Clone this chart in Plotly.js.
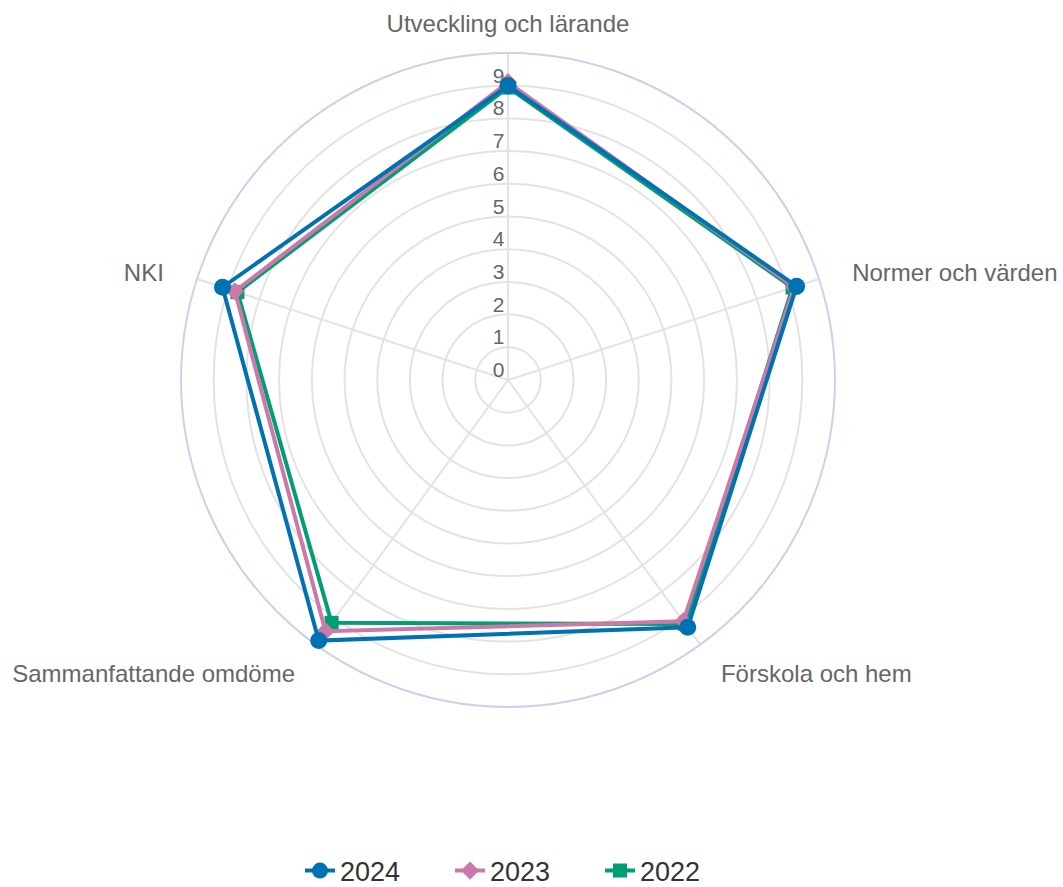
<!DOCTYPE html>
<html>
<head>
<meta charset="utf-8">
<script src="https://cdn.plot.ly/plotly-3.0.1.min.js"></script>
<style>html,body{margin:0;padding:0;background:#fff;}#chart{width:1063px;height:887px;}</style>
</head>
<body>
<div id="chart"></div>
<script>
const categories = ["Utveckling och lärande", "Normer och värden", "Förskola och hem", "Sammanfattande omdöme", "NKI"];
const years = ["2024", "2023", "2022"];
const values2024 = [9.0, 9.28, 9.35, 9.85, 9.18];
const values2023 = [9.1, 9.2, 9.12, 9.5, 8.78];
const values2022 = [8.95, 9.15, 9.22, 9.18, 8.7];
const radialTicks = [0, 1, 2, 3, 4, 5, 6, 7, 8, 9];

const colors = ["#0072B2", "#CC79A7", "#009E73"];
const symbols = ["circle", "diamond", "square"];
const sizes = [17, 14, 14];
const seriesValues = [values2024, values2023, values2022];

// Extra spacing so the category labels sit a bit further from the outer circle
const NB = "\u00A0", TH = "\u2009";
const labelPad = [["", ""], [NB + NB + TH, ""], [NB + TH, ""], ["", NB + TH], ["", NB + NB + TH]];
const angularText = categories.map((c, i) => labelPad[i][0] + c + labelPad[i][1]);
// radial tick labels sit slightly above their grid circles
const labelLift = 0.3;

const gridTrace = {
  type: "scatterpolar", subplot: "polar", r: [], theta: [],
  mode: "markers", showlegend: false, hoverinfo: "skip"
};

const traces = [gridTrace].concat(years.map((y, i) => ({
  type: "scatterpolar",
  subplot: "polar2",
  name: y,
  r: seriesValues[i].concat([seriesValues[i][0]]),
  theta: categories.concat([categories[0]]),
  mode: "lines+markers",
  line: {color: colors[i], width: 4},
  marker: {color: colors[i], symbol: symbols[i], size: sizes[i]},
  hoverinfo: "name+r+theta"
})).reverse());

const angularBase = {
  type: "category",
  categoryarray: categories,
  rotation: 90,
  direction: "clockwise"
};

const layout = {
  width: 1063,
  height: 887,
  margin: {l: 181, r: 228, t: 53, b: 180},
  paper_bgcolor: "#fff",
  font: {family: "Liberation Sans, Arial, sans-serif", color: "#666"},
  showlegend: true,
  legend: {
    orientation: "h",
    xref: "paper", x: 0.526, xanchor: "center",
    yref: "container", y: 0.018, yanchor: "middle",
    font: {size: 27, color: "#333"},
    traceorder: "reversed",
    entrywidth: 105,
    entrywidthmode: "pixels"
  },
  polar: {
    bgcolor: "#fff",
    domain: {x: [0, 1], y: [0, 1]},
    radialaxis: {
      range: [0, 10],
      tickvals: radialTicks,
      showticklabels: false,
      angle: 90,
      showline: false,
      ticks: "",
      gridcolor: "#e3e3e3",
      gridwidth: 2
    },
    angularaxis: Object.assign({}, angularBase, {
      tickmode: "array",
      tickvals: categories,
      ticktext: angularText,
      showline: true,
      linecolor: "#c9d3e8",
      linewidth: 2,
      gridcolor: "#e3e3e3",
      gridwidth: 2,
      ticks: "outside",
      ticklen: 10,
      tickcolor: "rgba(0,0,0,0)",
      tickfont: {size: 24, color: "#666"}
    })
  },
  polar2: {
    bgcolor: "rgba(0,0,0,0)",
    domain: {x: [0, 1], y: [0, 1]},
    radialaxis: {
      range: [0, 10],
      tickvals: radialTicks.map(v => v + labelLift),
      ticktext: radialTicks.map(String),
      angle: 90,
      side: "counterclockwise",
      tickangle: 90,
      showline: false,
      showgrid: false,
      ticks: "",
      layer: "below traces",
      tickfont: {size: 21, color: "#666"}
    },
    angularaxis: Object.assign({}, angularBase, {
      showline: false,
      showgrid: false,
      showticklabels: false,
      ticks: ""
    })
  }
};

Plotly.newPlot("chart", traces, layout, {displayModeBar: false});
</script>
</body>
</html>
